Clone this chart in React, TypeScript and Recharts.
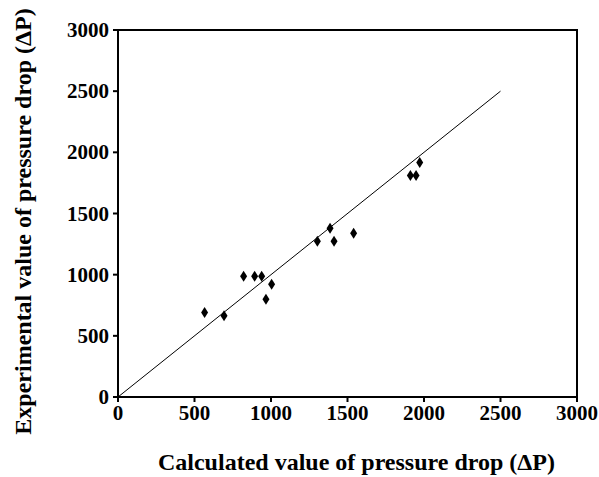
import {
  Label,
  ReferenceArea,
  ReferenceLine,
  Scatter,
  ScatterChart,
  XAxis,
  YAxis
} from "recharts";

const calculated = [566, 693, 821, 893, 939, 967, 1004, 1303, 1386, 1412, 1540, 1911, 1948, 1972];
const experimental = [690, 665, 987, 987, 987, 799, 922, 1274, 1380, 1274, 1339, 1811, 1811, 1917];
const ticks = [0, 500, 1000, 1500, 2000, 2500, 3000];
const parityEnd = 2500;

const points = calculated.map((x, i) => ({ x, y: experimental[i] }));

const font = '"Liberation Serif", "Times New Roman", serif';

function XTick(props: any) {
  const { x, y, payload } = props;
  return (
    <text x={x} y={y + 16} textAnchor="middle" fontFamily={font} fontWeight={700} fontSize={21} fill="#000">
      {payload.value}
    </text>
  );
}

function YTick(props: any) {
  const { x, y, payload } = props;
  return (
    <text x={x} y={y + 7} textAnchor="end" fontFamily={font} fontWeight={700} fontSize={21} fill="#000">
      {payload.value}
    </text>
  );
}

function Diamond(props: any) {
  const { cx, cy } = props;
  if (cx == null || cy == null) return null;
  return (
    <polygon
      points={`${cx},${cy - 5.5} ${cx + 3.5},${cy} ${cx},${cy + 5.5} ${cx - 3.5},${cy}`}
      fill="#000"
    />
  );
}

export default function App() {
  return (
    <div style={{ position: "absolute", left: 0, top: 0, background: "#fff" }}>
      <ScatterChart width={599} height={477} margin={{ top: 30, right: 22, bottom: 0, left: 0 }}>
        <ReferenceArea x1={0} x2={3000} y1={0} y2={3000} fill="none" stroke="#000" strokeWidth={2} />
        <XAxis
          type="number"
          dataKey="x"
          domain={[0, 3000]}
          ticks={ticks}
          height={80}
          stroke="#000"
          strokeWidth={2}
          tickSize={5}
          tickMargin={2}
          tick={<XTick />}
        >
          <Label
            content={({ viewBox }: any) => (
              <text
                x={viewBox.x + viewBox.width / 2 + 9}
                y={viewBox.y + 73}
                textAnchor="middle"
                fontFamily={font}
                fontWeight={700}
                fontSize={24}
                fill="#000"
              >
                Calculated value of pressure drop (ΔP)
              </text>
            )}
          />
        </XAxis>
        <YAxis
          type="number"
          dataKey="y"
          domain={[0, 3000]}
          ticks={ticks}
          width={118}
          stroke="#000"
          strokeWidth={2}
          tickSize={5}
          tickMargin={4}
          tick={<YTick />}
        >
          <Label
            content={({ viewBox }: any) => {
              const cx = viewBox.x + 31;
              const cy = viewBox.y + viewBox.height / 2 + 8;
              return (
                <text
                  x={cx}
                  y={cy}
                  transform={`rotate(-90 ${cx} ${cy})`}
                  textAnchor="middle"
                  fontFamily={font}
                  fontWeight={700}
                  fontSize={24}
                  fill="#000"
                >
                  Experimental value of pressure drop (ΔP)
                </text>
              );
            }}
          />
        </YAxis>
        <ReferenceLine
          segment={[
            { x: 0, y: 0 },
            { x: parityEnd, y: parityEnd }
          ]}
          stroke="#000"
          strokeWidth={1}
        />
        <Scatter data={points} shape={<Diamond />} isAnimationActive={false} />
      </ScatterChart>
    </div>
  );
}
